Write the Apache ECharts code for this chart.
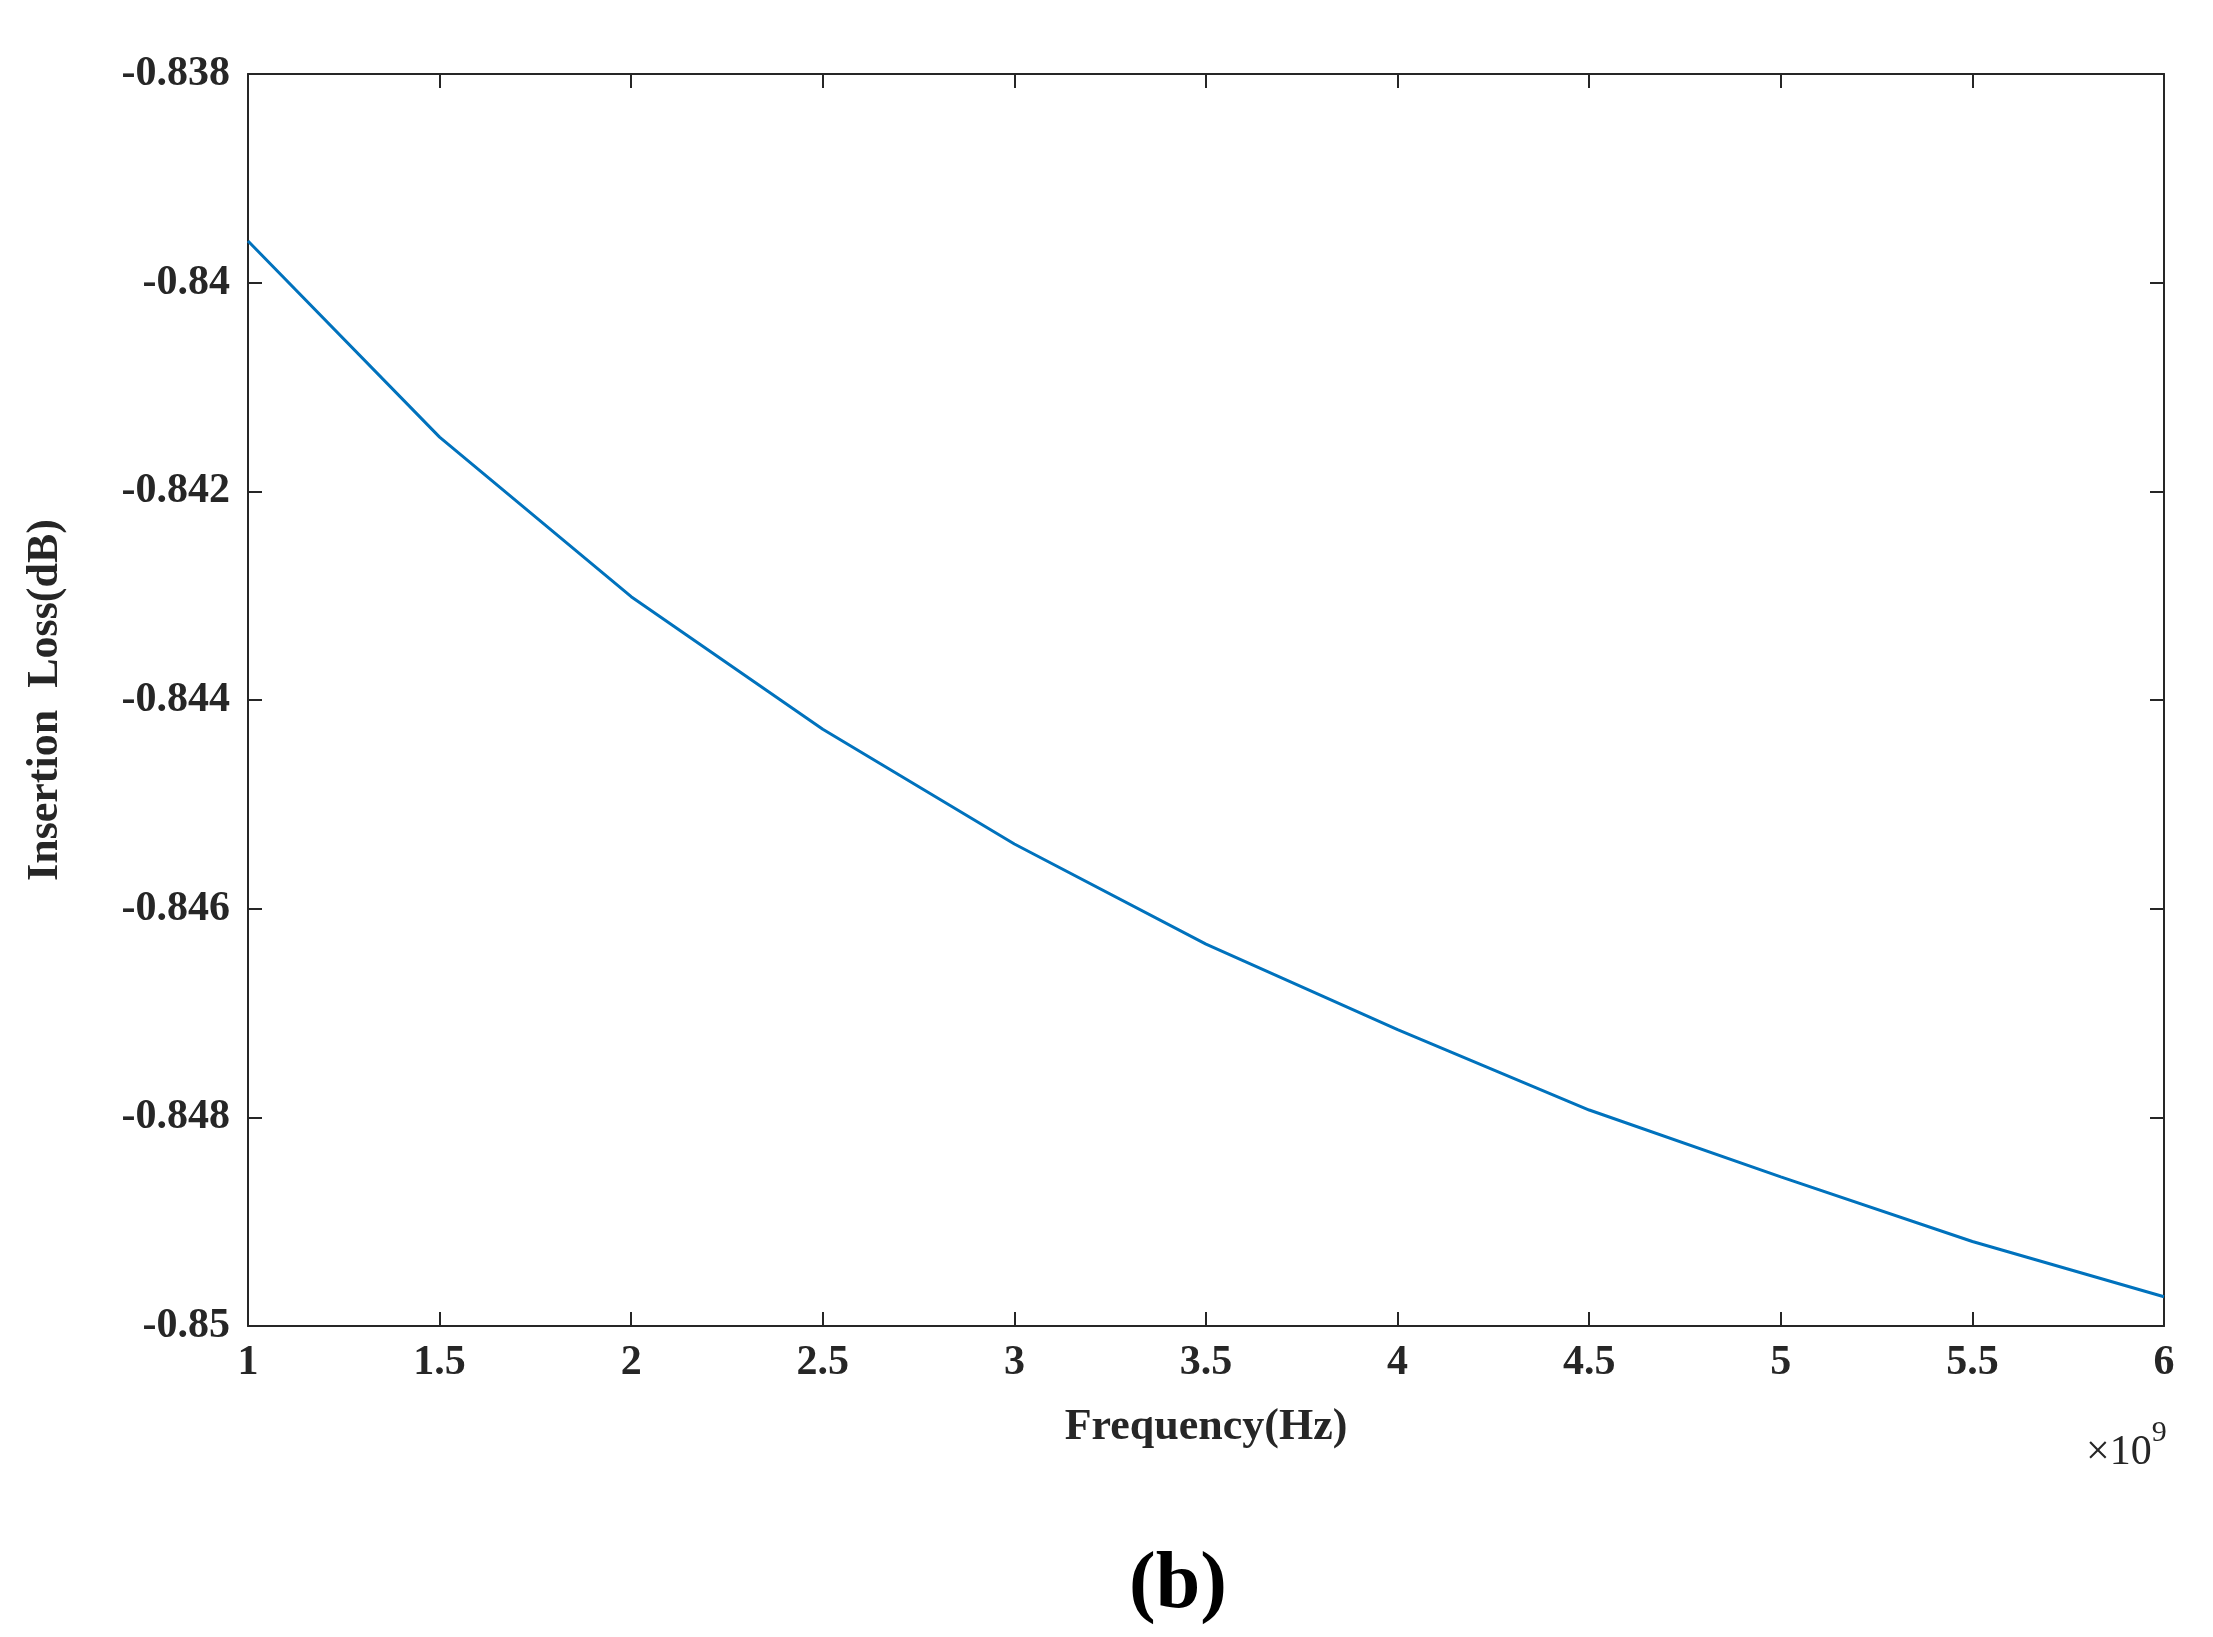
<!DOCTYPE html>
<html><head><meta charset="utf-8">
<script src="https://cdn.jsdelivr.net/npm/echarts@6/dist/echarts.min.js"></script>
<style>html,body{margin:0;background:#fff}#c{width:2213px;height:1637px}</style>
</head><body><div id="c"></div>
<script>
const freq = [1, 1.5, 2, 2.5, 3, 3.5, 4, 4.5, 5, 5.5, 6];
const loss = [-0.8396, -0.84148, -0.84301, -0.84428, -0.84538, -0.84634, -0.84716, -0.84793, -0.84857, -0.84919, -0.84972];
const xTitle = 'Frequency(Hz)';
const yTitle = 'Insertion  Loss(dB)';
const panel = '(b)';
const F = 'Liberation Serif';
const chart = echarts.init(document.getElementById('c'));
const axLine = {show: true, lineStyle: {color: '#262626', width: 2}};
const tick = {show: true, inside: true, length: 14, lineStyle: {color: '#262626', width: 2}};
chart.setOption({
  backgroundColor: '#fff',
  animation: false,
  grid: {left: 248, right: 49, top: 74, bottom: 311},
  xAxis: [{
    type: 'value', min: 1, max: 6, interval: 0.5,
    axisLine: axLine, axisTick: tick, splitLine: {show: false},
    axisLabel: {fontFamily: F, fontWeight: 'bold', fontSize: 42, color: '#262626', margin: 16},
    name: xTitle, nameLocation: 'middle', nameGap: 80,
    nameTextStyle: {fontFamily: F, fontWeight: 'bold', fontSize: 44, color: '#262626'}
  }, {
    type: 'value', min: 1, max: 6, interval: 0.5, position: 'top',
    axisLine: axLine, axisTick: tick, axisLabel: {show: false}, splitLine: {show: false}
  }],
  yAxis: [{
    type: 'value', min: -0.85, max: -0.838, interval: 0.002,
    axisLine: axLine, axisTick: tick, splitLine: {show: false},
    axisLabel: {fontFamily: F, fontWeight: 'bold', fontSize: 42, color: '#262626', margin: 18,
      formatter: v => String(Number(v.toFixed(3)))},
    name: yTitle, nameLocation: 'middle', nameGap: 180,
    nameTextStyle: {fontFamily: F, fontWeight: 'bold', fontSize: 44, color: '#262626'}
  }, {
    type: 'value', min: -0.85, max: -0.838, interval: 0.002, position: 'right',
    axisLine: axLine, axisTick: tick, axisLabel: {show: false}, splitLine: {show: false}
  }],
  series: [{
    type: 'line', data: freq.map((f, i) => [f, loss[i]]),
    showSymbol: false, lineStyle: {color: '#0072BD', width: 3}, itemStyle: {color: '#0072BD'}
  }],
  graphic: [
    {type: 'text', left: 2086, top: 1418, style: {
      text: '{a|×10}{b|9}', rich: {
        a: {fontFamily: F, fontSize: 42, fill: '#262626', verticalAlign: 'bottom'},
        b: {fontFamily: F, fontSize: 30, fill: '#262626', verticalAlign: 'top', padding: [0, 0, 26, 0]}
      }}},
    {type: 'text', x: 1178, y: 1586, style: {
      text: panel, font: 'bold 80px "Liberation Serif"', fill: '#000', align: 'center', verticalAlign: 'middle'}}
  ]
});
</script></body></html>
